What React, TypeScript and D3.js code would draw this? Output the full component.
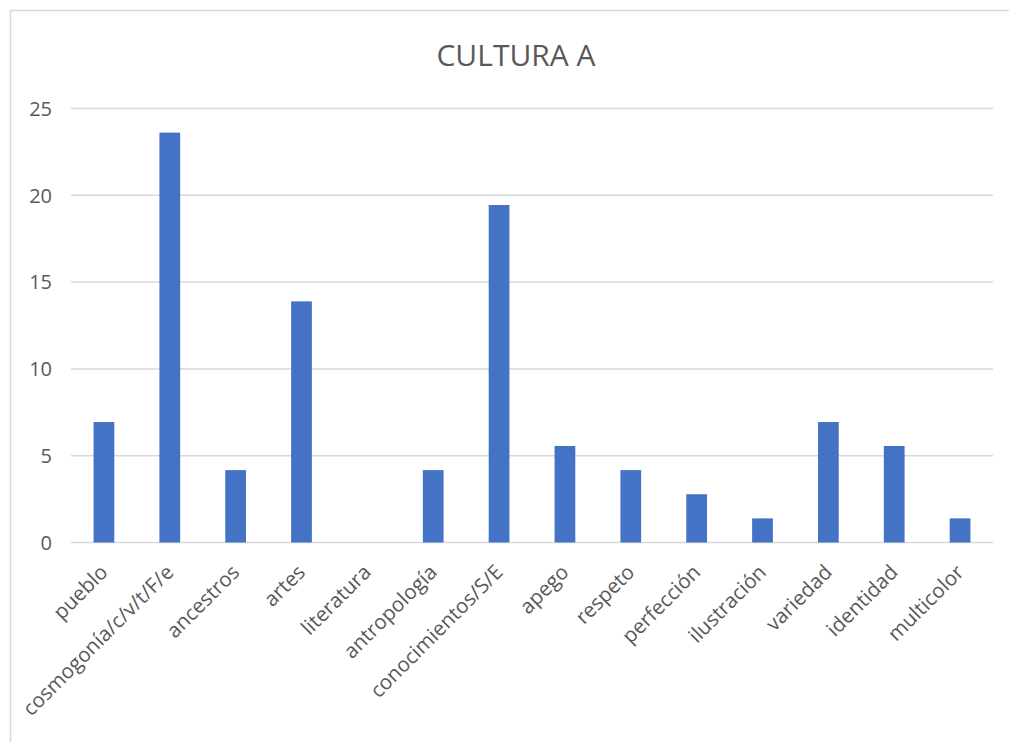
import React from "react";
import * as d3 from "d3";

const categories = [
  "pueblo",
  "cosmogonía/c/v/t/F/e",
  "ancestros",
  "artes",
  "literatura",
  "antropología",
  "conocimientos/S/E",
  "apego",
  "respeto",
  "perfección",
  "ilustración",
  "variedad",
  "identidad",
  "multicolor",
];

const values = [6.94, 23.61, 4.17, 13.89, 0, 4.17, 19.44, 5.56, 4.17, 2.78, 1.39, 6.94, 5.56, 1.39];

const yTicks = [0, 5, 10, 15, 20, 25];

const title = "CULTURA A";

const W = 1009;
const H = 742;
const plot = { left: 71, right: 993, top: 108.5, bottom: 542.5 };
const FONT = "'Open Sans', sans-serif";
const TEXT = "#595959";

export default function App() {
  const x = d3
    .scaleBand<string>()
    .domain(categories)
    .range([plot.left, plot.right]);
  const y = d3.scaleLinear().domain([0, 25]).range([plot.bottom, plot.top]);
  const barW = x.bandwidth() * 0.315;

  return (
    <div style={{ position: "fixed", left: 0, top: 0 }}>
      <svg width={W} height={H} style={{ display: "block", background: "#fff" }}>
        <rect x={10.5} y={10.5} width={W + 20} height={H + 20} fill="#fff" stroke="#d9d9d9" strokeWidth={1.5} />
        <text x={516} y={66} textAnchor="middle" fontFamily={FONT} fontSize={30} fill={TEXT}>
          {title}
        </text>
        {yTicks.map((t) => (
          <g key={t}>
            <line x1={plot.left} x2={plot.right} y1={y(t)} y2={y(t)} stroke="#d9d9d9" strokeWidth={1.5} />
            <text
              x={52}
              y={y(t)}
              dy="0.36em"
              textAnchor="end"
              fontFamily={FONT}
              fontSize={20}
              fill={TEXT}
            >
              {t}
            </text>
          </g>
        ))}
        {categories.map((c, i) => {
          const cx = (x(c) as number) + x.bandwidth() / 2;
          return (
            <g key={c}>
              {values[i] > 0 && (
                <rect x={cx - barW / 2} y={y(values[i])} width={barW} height={y(0) - y(values[i])} fill="#4472C4" />
              )}
              <text
                transform={`translate(${cx + 5},${y(0) + 31}) rotate(-45)`}
                textAnchor="end"
                fontFamily={FONT}
                fontSize={20.5}
                fill={TEXT}
              >
                {c}
              </text>
            </g>
          );
        })}
      </svg>
    </div>
  );
}
